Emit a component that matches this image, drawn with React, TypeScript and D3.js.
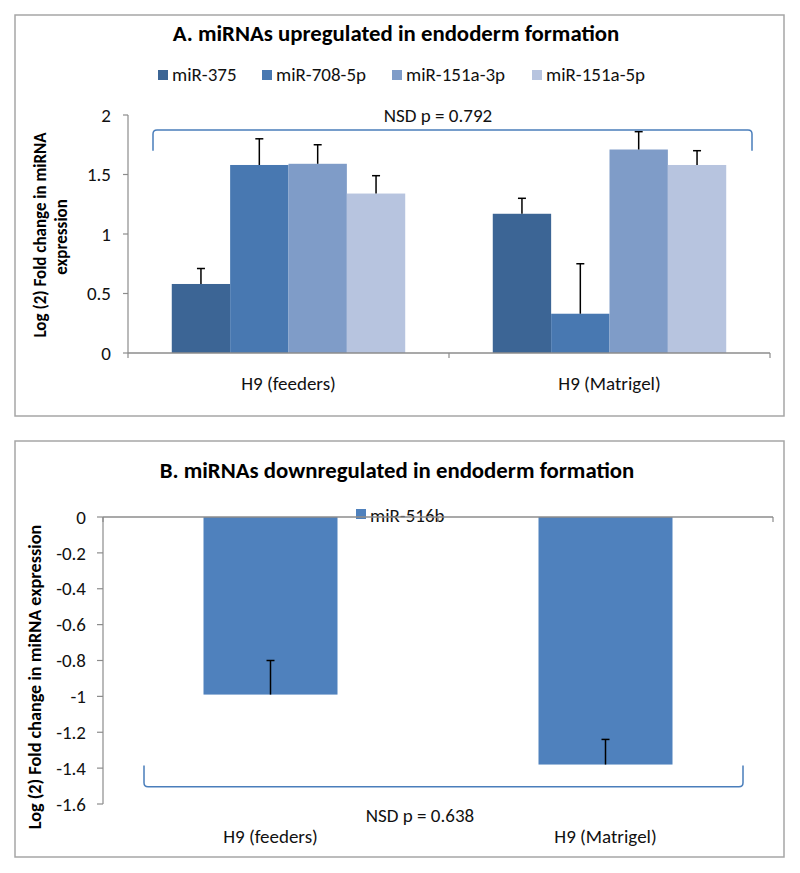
import React from "react";
import * as d3 from "d3";

// ---------- data ----------
const categories = ["H9 (feeders)", "H9 (Matrigel)"];
const seriesA = ["miR-375", "miR-708-5p", "miR-151a-3p", "miR-151a-5p"];
const colorsA = ["#3c6595", "#4878b1", "#7f9cc8", "#b7c4df"];
// values[series][category]
const miR375 = [0.58, 1.17];
const miR708 = [1.58, 0.33];
const miR151a3p = [1.59, 1.71];
const miR151a5p = [1.34, 1.58];
const errA375 = [0.13, 0.13];
const errA708 = [0.22, 0.42];
const errA151a3p = [0.16, 0.15];
const errA151a5p = [0.15, 0.12];
const valuesA = [miR375, miR708, miR151a3p, miR151a5p];
const errorsA = [errA375, errA708, errA151a3p, errA151a5p];
const ticksA = [0, 0.5, 1, 1.5, 2];

const seriesB = ["miR-516b"];
const miR516b = [-0.99, -1.38];
const errB516b = [0.19, 0.14];
const ticksB = [0, -0.2, -0.4, -0.6, -0.8, -1, -1.2, -1.4, -1.6];

const titleA = "A. miRNAs upregulated in endoderm formation";
const titleB = "B. miRNAs downregulated in endoderm formation";
const noteA = "NSD p = 0.792";
const noteB = "NSD p = 0.638";

const FONT = "Carlito, Calibri, Lato, 'Open Sans', sans-serif";
const AXIS = "#8c8c8c";
const BRACKET = "#4a7ebb";

export default function App() {
  // ----- panel A scales -----
  const xA = d3.scaleBand<string>().domain(categories).range([128, 770]).padding(0);
  const yA = d3.scaleLinear().domain([0, 2]).range([353, 115]);
  const barWA = xA.bandwidth() / 5.5;
  const innerA = d3
    .scaleBand<string>()
    .domain(seriesA)
    .range([-2 * barWA, 2 * barWA]);

  // ----- panel B scales -----
  const xB = d3.scaleBand<string>().domain(categories).range([103, 773]).padding(0);
  const yB = d3.scaleLinear().domain([-1.6, 0]).range([804, 517]);
  const barWB = xB.bandwidth() / 2.5;

  const bracketA = (() => {
    const l = (xA(categories[0]) as number) + 25;
    const r = (xA(categories[1]) as number) + xA.bandwidth() - 18;
    const top = yA(1.875);
    const bot = yA(1.7);
    return `M${l},${bot} L${l},${top + 4} Q${l},${top} ${l + 4},${top} L${r - 4},${top} Q${r},${top} ${r},${top + 4} L${r},${bot}`;
  })();
  const bracketB = (() => {
    const l = (xB(categories[0]) as number) + 41;
    const r = (xB(categories[1]) as number) + xB.bandwidth() - 30;
    const bot = yB(-1.504);
    const top = yB(-1.386);
    return `M${l},${top} L${l},${bot - 4} Q${l},${bot} ${l + 4},${bot} L${r - 4},${bot} Q${r},${bot} ${r},${bot - 4} L${r},${top}`;
  })();

  const legendAx = [158, 262, 392, 532];

  return (
    <svg width={800} height={873} style={{ display: "block", position: "absolute", left: 0, top: 0 }} fontFamily={FONT}>
      <rect x={0} y={0} width={800} height={873} fill="#fff" />
      {/* ================= Panel A ================= */}
      <rect x={15} y={15} width={769} height={401} fill="#fff" stroke="#a6a6a6" strokeWidth={1.5} />
      <text x={396} y={41} textAnchor="middle" fontSize={22.8} fontWeight="bold" fill="#000">
        {titleA}
      </text>
      {/* legend */}
      {seriesA.map((s, i) => (
        <g key={s}>
          <rect x={legendAx[i]} y={70} width={10} height={10} fill={colorsA[i]} />
          <text x={legendAx[i] + 14} y={81} fontSize={19} fill="#111">
            {s}
          </text>
        </g>
      ))}
      {/* y axis */}
      <line x1={128} x2={128} y1={yA(2)} y2={yA(0)} stroke={AXIS} strokeWidth={1.2} />
      {ticksA.map((t) => (
        <g key={t}>
          <line x1={123} x2={128} y1={yA(t)} y2={yA(t)} stroke={AXIS} strokeWidth={1.2} />
          <text x={111} y={yA(t)} dy="0.35em" textAnchor="end" fontSize={19} fill="#111">
            {t}
          </text>
        </g>
      ))}
      {/* bars */}
      {seriesA.map((s, i) =>
        categories.map((c, j) => {
          const cx = (xA(c) as number) + xA.bandwidth() / 2;
          const x0 = cx + (innerA(s) as number);
          const v = valuesA[i][j];
          return (
            <rect key={s + c} x={x0} y={yA(v)} width={innerA.bandwidth()} height={yA(0) - yA(v)} fill={colorsA[i]} />
          );
        })
      )}
      {/* error bars */}
      {seriesA.map((s, i) =>
        categories.map((c, j) => {
          const cx = (xA(c) as number) + xA.bandwidth() / 2 + (innerA(s) as number) + innerA.bandwidth() / 2;
          const v = valuesA[i][j];
          const e = errorsA[i][j];
          return (
            <g key={"e" + s + c} stroke="#000" strokeWidth={1.5}>
              <line x1={cx} x2={cx} y1={yA(v)} y2={yA(v + e)} />
              <line x1={cx - 4} x2={cx + 4} y1={yA(v + e)} y2={yA(v + e)} />
            </g>
          );
        })
      )}
      {/* x axis */}
      <line x1={128} x2={770} y1={yA(0)} y2={yA(0)} stroke={AXIS} strokeWidth={1.5} />
      {[0, 1, 2].map((k) => (
        <line key={k} x1={128 + k * xA.bandwidth()} x2={128 + k * xA.bandwidth()} y1={yA(0)} y2={yA(0) + 5} stroke={AXIS} strokeWidth={1.2} />
      ))}
      {categories.map((c) => (
        <text key={c} x={(xA(c) as number) + xA.bandwidth() / 2} y={390} textAnchor="middle" fontSize={19} fill="#111">
          {c}
        </text>
      ))}
      {/* axis title */}
      <text transform={`translate(46,235) rotate(-90)`} textAnchor="middle" fontSize={17} fontWeight="bold" fill="#000">
        Log (2) Fold change in miRNA
      </text>
      <text transform={`translate(67,237) rotate(-90)`} textAnchor="middle" fontSize={17} fontWeight="bold" fill="#000">
        expression
      </text>
      {/* bracket */}
      <path d={bracketA} fill="none" stroke={BRACKET} strokeWidth={1.5} />
      <text x={438} y={122} textAnchor="middle" fontSize={19} fill="#111">
        {noteA}
      </text>

      {/* ================= Panel B ================= */}
      <rect x={15} y={441} width={769} height={416} fill="#fff" stroke="#a6a6a6" strokeWidth={1.5} />
      <text x={397} y={478} textAnchor="middle" fontSize={22.8} fontWeight="bold" fill="#000">
        {titleB}
      </text>
      {/* bars */}
      {categories.map((c, j) => {
        const cx = (xB(c) as number) + xB.bandwidth() / 2;
        const v = miR516b[j];
        return <rect key={c} x={cx - barWB / 2} y={yB(0)} width={barWB} height={yB(v) - yB(0)} fill="#4f81bd" />;
      })}
      {categories.map((c, j) => {
        const cx = (xB(c) as number) + xB.bandwidth() / 2;
        const v = miR516b[j];
        const e = errB516b[j];
        return (
          <g key={"e" + c} stroke="#000" strokeWidth={1.5}>
            <line x1={cx} x2={cx} y1={yB(v)} y2={yB(v + e)} />
            <line x1={cx - 4} x2={cx + 4} y1={yB(v + e)} y2={yB(v + e)} />
          </g>
        );
      })}
      {/* y axis */}
      <line x1={103} x2={103} y1={yB(0)} y2={yB(-1.6)} stroke={AXIS} strokeWidth={1.2} />
      {ticksB.map((t) => (
        <g key={t}>
          <line x1={97} x2={103} y1={yB(t)} y2={yB(t)} stroke={AXIS} strokeWidth={1.2} />
          <text x={86} y={yB(t)} dy="0.35em" textAnchor="end" fontSize={19} fill="#111">
            {t}
          </text>
        </g>
      ))}
      {/* legend (drawn under the axis line like the original) */}
      <rect x={356} y={509} width={10} height={10} fill="#4f81bd" />
      <text x={370} y={522} fontSize={19} fill="#111">
        {seriesB[0]}
      </text>
      {/* x axis at zero */}
      <line x1={103} x2={773} y1={yB(0)} y2={yB(0)} stroke={AXIS} strokeWidth={1.5} />
      {[0, 1, 2].map((k) => (
        <line key={k} x1={103 + k * xB.bandwidth()} x2={103 + k * xB.bandwidth()} y1={yB(0)} y2={yB(0) + 5} stroke={AXIS} strokeWidth={1.2} />
      ))}
      {categories.map((c) => (
        <text key={c} x={(xB(c) as number) + xB.bandwidth() / 2} y={843} textAnchor="middle" fontSize={19} fill="#111">
          {c}
        </text>
      ))}
      <text transform={`translate(41,677) rotate(-90)`} textAnchor="middle" fontSize={18.2} fontWeight="bold" fill="#000">
        Log (2) Fold change in miRNA expression
      </text>
      <path d={bracketB} fill="none" stroke={BRACKET} strokeWidth={1.5} />
      <text x={420} y={822} textAnchor="middle" fontSize={19} fill="#111">
        {noteB}
      </text>
    </svg>
  );
}
